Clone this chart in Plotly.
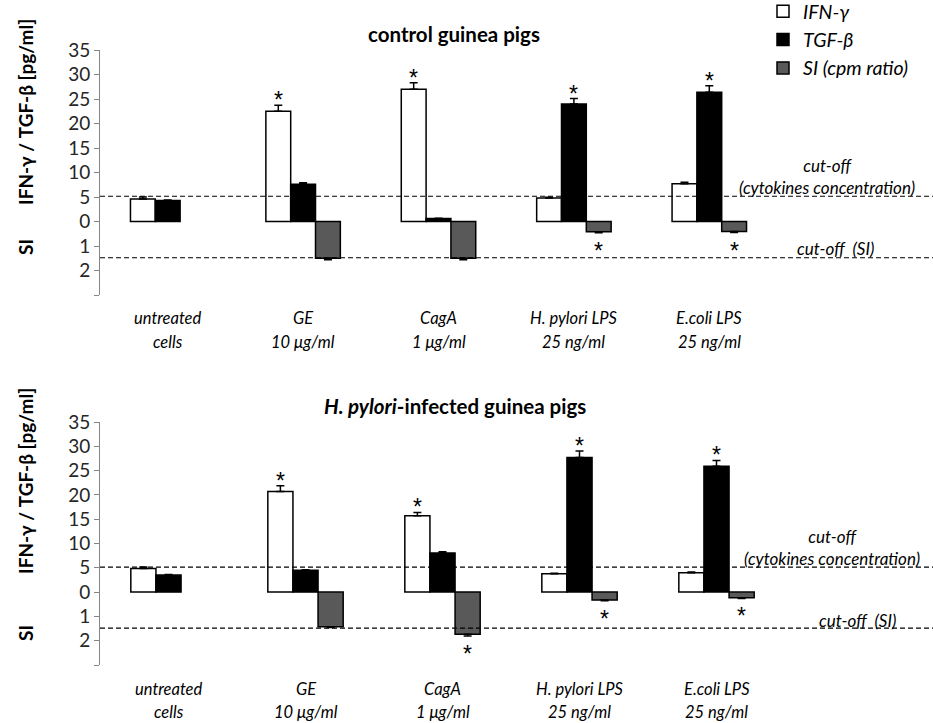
import plotly.graph_objects as go

W, H = 933, 723
FONT = "Lato, 'Open Sans', sans-serif"

# ---------------- data ----------------
label_line1 = ["untreated", "GE", "CagA", "H. pylori LPS", "E.coli LPS"]
label_line2 = ["cells", "10 μg/ml", "1 μg/ml", "25 ng/ml", "25 ng/ml"]

ctrl_ifn = [4.6, 22.5, 27.0, 4.8, 7.7]
ctrl_ifn_err = [0.4, 1.2, 1.3, 0.15, 0.3]
ctrl_tgf = [4.3, 7.6, 0.6, 24.0, 26.4]
ctrl_tgf_err = [0.1, 0.3, 0.05, 1.1, 1.3]
ctrl_si = [None, 1.50, 1.50, 0.42, 0.41]
ctrl_si_err = [0, 0.06, 0.06, 0.04, 0.04]
ctrl_ifn_sig = [0, 1, 1, 0, 0]
ctrl_tgf_sig = [0, 0, 0, 1, 1]
ctrl_si_sig = [0, 0, 0, 1, 1]

inf_ifn = [4.85, 20.7, 15.7, 3.75, 4.0]
inf_ifn_err = [0.3, 1.2, 0.7, 0.15, 0.15]
inf_tgf = [3.5, 4.5, 8.05, 27.7, 25.9]
inf_tgf_err = [0.1, 0.1, 0.25, 1.35, 1.2]
inf_si = [None, 1.43, 1.73, 0.33, 0.23]
inf_si_err = [0, 0.03, 0.08, 0.03, 0.03]
inf_ifn_sig = [0, 1, 1, 0, 0]
inf_tgf_sig = [0, 0, 0, 1, 1]
inf_si_sig = [0, 0, 1, 1, 1]

y_tickvals = [-15, -10, -5, 0, 5, 10, 15, 20, 25, 30, 35]
y_ticktext = ["", "2", "1", "0", "5", "10", "15", "20", "25", "30", "35"]
SI_SCALE = 5          # 1 SI unit drawn as 5 axis units (plotted downwards)
CUTOFF_CYT = 5.15
CUTOFF_SI = 1.48

series_names = ["<i>IFN-γ</i>", "<i>TGF-β</i>", "<i>SI (cpm ratio)</i>"]
series_colors = ["#ffffff", "#000000", "#595959"]

# ---------------- helpers ----------------
def px(x):
    return x / W

def py(y):
    return 1 - y / H

BARGAP = 0.45
BW = (1 - BARGAP) / 3
xs = list(range(len(label_line1)))

top_xdom = [px(100), px(777)]
top_ydom = [py(295), py(50)]
bot_xdom = [px(100), px(785)]
bot_ydom = [py(665), py(422)]
YR = [-15, 35]

fig = go.Figure()

panels = [
    dict(ifn=ctrl_ifn, ifn_e=ctrl_ifn_err, tgf=ctrl_tgf, tgf_e=ctrl_tgf_err,
         si=ctrl_si, si_e=ctrl_si_err, sig=[ctrl_ifn_sig, ctrl_tgf_sig, ctrl_si_sig],
         xa="x", ya="y", legend=True),
    dict(ifn=inf_ifn, ifn_e=inf_ifn_err, tgf=inf_tgf, tgf_e=inf_tgf_err,
         si=inf_si, si_e=inf_si_err, sig=[inf_ifn_sig, inf_tgf_sig, inf_si_sig],
         xa="x2", ya="y2", legend=False),
]

STAR_FONT = dict(family="'Liberation Sans', Arial, sans-serif", size=23, color="black")

annotations = []

def note(**kw):
    kw.setdefault("showarrow", False)
    kw.setdefault("xanchor", "center")
    kw.setdefault("yanchor", "middle")
    annotations.append(kw)

for p in panels:
    si_plot = [None if v is None else -v * SI_SCALE for v in p["si"]]
    si_err = [e * SI_SCALE for e in p["si_e"]]
    vals = [p["ifn"], p["tgf"], si_plot]
    errs_up = [p["ifn_e"], p["tgf_e"], [0] * len(xs)]
    errs_dn = [[0] * len(xs), [0] * len(xs), si_err]
    for k in range(3):
        fig.add_trace(go.Bar(
            x=xs, y=vals[k], name=series_names[k], xaxis=p["xa"], yaxis=p["ya"],
            marker=dict(color=series_colors[k], line=dict(color="black", width=1.5)),
            error_y=dict(type="data", symmetric=False, array=errs_up[k],
                         arrayminus=errs_dn[k], color="black", thickness=1.5, width=4),
            showlegend=p["legend"], legendgroup=str(k), hoverinfo="skip",
        ))
        for i in xs:
            if not p["sig"][k][i]:
                continue
            xc = i + (k - 1) * BW
            if k < 2:
                yv = vals[k][i] + errs_up[k][i]
                note(x=xc, y=yv, xref=p["xa"], yref=p["ya"], text="*",
                     yanchor="bottom", yshift=-10, font=STAR_FONT)
            else:
                yv = vals[k][i] - errs_dn[k][i]
                note(x=xc, y=yv, xref=p["xa"], yref=p["ya"], text="*",
                     yanchor="top", yshift=-3, font=STAR_FONT)

# category labels
LBL_FONT = dict(family=FONT, size=16.5, color="black")
for xa, y1, y2 in [("x", 318, 342), ("x2", 689, 712)]:
    for i in xs:
        note(x=i, y=py(y1), xref=xa, yref="paper", text="<i>%s</i>" % label_line1[i], font=LBL_FONT)
        note(x=i, y=py(y2), xref=xa, yref="paper", text="<i>%s</i>" % label_line2[i], font=LBL_FONT)

# titles
note(x=px(454), y=py(34), xref="paper", yref="paper",
     text="<b>control guinea pigs</b>", font=dict(family=FONT, size=20.5, color="black"))
note(x=px(455), y=py(406), xref="paper", yref="paper",
     text="<b><i>H. pylori</i>-infected guinea pigs</b>", font=dict(family=FONT, size=20.5, color="black"))
# y titles
for yc, ys in [(112, 247), (481, 633)]:
    note(x=px(25), y=py(yc), xref="paper", yref="paper", textangle=-90,
         text="<b>IFN-γ / TGF-β [pg/ml]</b>", font=dict(family=FONT, size=19, color="black"))
    note(x=px(25), y=py(ys), xref="paper", yref="paper", textangle=-90,
         text="<b>SI</b>", font=dict(family=FONT, size=19, color="black"))
# cut-off labels
CUT_FONT = dict(family=FONT, size=17, color="black")
for (cx1, cy1), (cx3, cy3) in [((827, 176.5), (835, 248)),
                               ((832, 547.5), (857, 620))]:
    note(x=px(cx1), y=py(cy1), xref="paper", yref="paper",
         text="<i>cut-off<br>(cytokines concentration)</i>", font=CUT_FONT)
    note(x=px(cx3), y=py(cy3), xref="paper", yref="paper", text="<i>cut-off  (SI)</i>", font=CUT_FONT)

# dashed cut-off lines
shapes = []
for ya, xd in [("y", top_xdom), ("y2", bot_xdom)]:
    for yv in [CUTOFF_CYT, -CUTOFF_SI * SI_SCALE]:
        shapes.append(dict(type="line", xref="paper", yref=ya, x0=xd[0], x1=1, y0=yv, y1=yv,
                           line=dict(color="black", width=1.2, dash="5px,3px")))

def zero_pos(dom):
    return dom[0] + (0 - YR[0]) / (YR[1] - YR[0]) * (dom[1] - dom[0])

AX_GRAY = "#868686"
xcommon = dict(range=[-0.5, len(xs) - 0.5], showgrid=False, zeroline=False, fixedrange=True,
               automargin=False)
ycommon = dict(range=YR, tickvals=y_tickvals, ticktext=y_ticktext, showgrid=False, zeroline=False,
               showline=True, linecolor=AX_GRAY, linewidth=1, ticks="outside", ticklen=5,
               tickcolor=AX_GRAY, automargin=False, fixedrange=True,
               tickfont=dict(family=FONT, size=19, color="#262626"))
zcommon = dict(showticklabels=False, showline=True, linecolor=AX_GRAY, ticks="outside", ticklen=5,
               tickcolor=AX_GRAY, layer="below traces", tickvals=[i + 0.5 for i in xs])

fig.update_layout(
    width=W, height=H, margin=dict(l=0, r=0, t=0, b=0, pad=0, autoexpand=False),
    paper_bgcolor="white", plot_bgcolor="rgba(0,0,0,0)",
    barmode="group", bargap=BARGAP, bargroupgap=0,
    xaxis=dict(domain=top_xdom, anchor="y", showticklabels=False, showline=False, ticks="", **xcommon),
    yaxis=dict(domain=top_ydom, anchor="x", **ycommon),
    xaxis2=dict(domain=bot_xdom, anchor="y2", showticklabels=False, showline=False, ticks="", **xcommon),
    yaxis2=dict(domain=bot_ydom, anchor="x2", **ycommon),
    xaxis3=dict(overlaying="x", anchor="free", position=zero_pos(top_ydom), domain=top_xdom,
                **zcommon, **xcommon),
    xaxis4=dict(overlaying="x2", anchor="free", position=zero_pos(bot_ydom), domain=bot_xdom,
                **zcommon, **xcommon),
    legend=dict(x=px(763), y=py(-8), xanchor="left", yanchor="top", bgcolor="rgba(0,0,0,0)",
                font=dict(family=FONT, size=19.5, color="black"), traceorder="normal",
                itemclick=False, itemdoubleclick=False),
    annotations=annotations,
    shapes=shapes,
    showlegend=True,
    hovermode=False,
)

fig.write_html("out.html", config={"displayModeBar": False, "staticPlot": True},
               post_script="document.body.style.margin='0px';document.body.style.overflow='hidden';")
